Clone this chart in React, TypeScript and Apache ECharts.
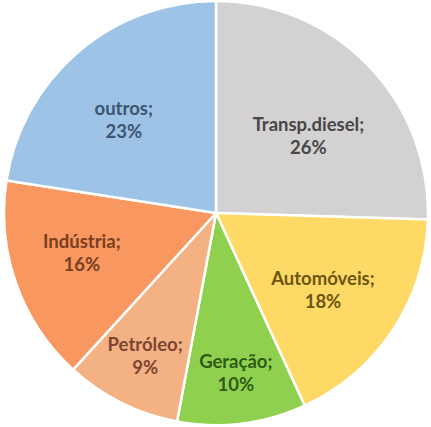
import React, { useEffect, useRef } from "react";
import * as echarts from "echarts";

const categories = ["Transp.diesel", "Automóveis", "Geração", "Petróleo", "Indústria", "outros"];
const shares = [26, 18, 10, 9, 16, 23];

const sliceColors = ["#D3D1D1", "#FFD966", "#8FD14F", "#F4B183", "#F8975F", "#9DC3E6"];
const labelColors = ["#474747", "#6B5512", "#2F5A18", "#7A4532", "#7A3E20", "#3D5572"];
const labelRadius = [0.57, 0.62, 0.76, 0.75, 0.66, 0.62];
const labelAngleShift = [4, 2, 0, 0, 3, -4];

const W = 431;
const H = 427;
const CX = 216;
const CY = 213;
const R = 212;

export default function App() {
  const ref = useRef<HTMLDivElement>(null);
  useEffect(() => {
    if (!ref.current) return;
    const chart = echarts.init(ref.current, null, { renderer: "svg" });
    const total = shares.reduce((a, b) => a + b, 0);
    const labelLayout = (params: any) => {
      const i = params.dataIndex;
      let before = 0;
      for (let k = 0; k < i; k++) before += shares[k];
      const mid = ((before + shares[i] / 2) / total) * Math.PI * 2 + (labelAngleShift[i] * Math.PI) / 180;
      const r = R * labelRadius[i];
      return { x: CX + r * Math.sin(mid), y: CY - r * Math.cos(mid) };
    };
    chart.setOption({
      animation: false,
      backgroundColor: "#ffffff",
      series: [
        {
          type: "pie",
          center: [CX, CY],
          radius: [0, R],
          startAngle: 90,
          clockwise: true,
          avoidLabelOverlap: false,
          silent: true,
          itemStyle: { borderColor: "#ffffff", borderWidth: 2.5 },
          label: {
            show: true,
            position: "inside",
            formatter: "{b};\n{c}%",
            fontFamily: "Lato",
            fontWeight: "bold",
            fontSize: 18.5,
            lineHeight: 23,
            align: "center",
          },
          labelLine: { show: false },
          labelLayout,
          emphasis: { disabled: true },
          data: categories.map((name, i) => ({
            name,
            value: shares[i],
            itemStyle: { color: sliceColors[i] },
            label: { color: labelColors[i] },
          })),
        },
      ],
    });
    return () => chart.dispose();
  }, []);
  return (
    <div
      ref={ref}
      style={{ position: "fixed", left: 0, top: 0, width: W, height: H }}
    />
  );
}
